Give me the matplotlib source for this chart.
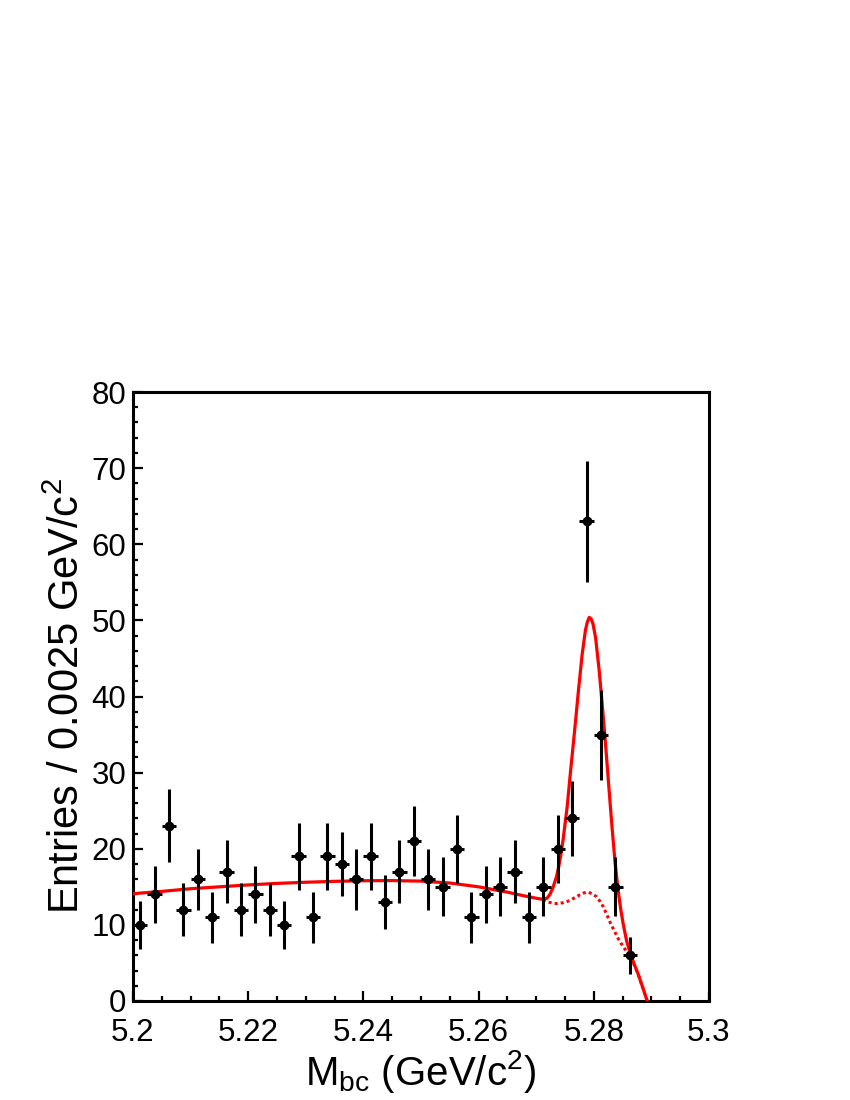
import numpy as np
import matplotlib
matplotlib.use("Agg")
import matplotlib.pyplot as plt
from matplotlib.ticker import MultipleLocator

plt.rcParams['font.family'] = ['Liberation Sans', 'DejaVu Sans']
plt.rcParams['mathtext.fontset'] = 'custom'
plt.rcParams['mathtext.rm'] = 'Liberation Sans'

# Data: bin centres (GeV/c^2) and entries per 0.0025 GeV/c^2
bin_centers = [5.20125, 5.20375, 5.20625, 5.20875, 5.21125, 5.21375, 5.21625,
               5.21875, 5.22125, 5.22375, 5.22625, 5.22875, 5.23125, 5.23375,
               5.23625, 5.23875, 5.24125, 5.24375, 5.24625, 5.24875, 5.25125,
               5.25375, 5.25625, 5.25875, 5.26125, 5.26375, 5.26625, 5.26875,
               5.27125, 5.27375, 5.27625, 5.27875, 5.28125, 5.28375, 5.28625]
entries = [10, 14, 23, 12, 16, 11, 17, 12, 14, 12, 10, 19, 11, 19, 18, 16, 19,
           13, 17, 21, 16, 15, 20, 11, 14, 15, 17, 11, 15, 20, 24, 63, 35, 15, 6]
bin_half_width = 0.00125

# Total fit curve
fit_x = [5.2000, 5.2050, 5.2100, 5.2150, 5.2200, 5.2250, 5.2300, 5.2350,
         5.2400, 5.2450, 5.2500, 5.2550, 5.2600, 5.2650, 5.2680, 5.2700,
         5.27123, 5.27188, 5.27240, 5.27292, 5.27356, 5.27396, 5.27431,
         5.27470, 5.27540, 5.27599, 5.27651, 5.27686, 5.27731, 5.27800,
         5.27856, 5.27889, 5.27922, 5.27955, 5.27986, 5.28033, 5.28095,
         5.28148, 5.28194, 5.28224, 5.28269, 5.28316, 5.28368, 5.28425,
         5.28470, 5.28512, 5.28571, 5.28628, 5.28700, 5.28773, 5.28850,
         5.28929]
fit_y = [14.1, 14.4, 14.75, 15.0, 15.25, 15.45, 15.6, 15.72,
         15.8, 15.82, 15.75, 15.5, 15.0, 14.3, 13.8, 13.5,
         13.35, 13.5, 14.0, 14.9, 16.4, 17.8, 19.3,
         21.3, 25.6, 30.3, 34.2, 36.9, 40.5, 45.6,
         48.7, 49.8, 50.4, 50.2, 49.6, 47.7, 43.4,
         38.9, 34.8, 31.9, 27.5, 23.0, 18.4, 14.5,
         12.0, 10.1, 7.9, 6.4, 4.9, 3.5, 1.8,
         0.0]

# Background (dotted) curve beyond the point where it leaves the total
bkg_x = [5.27123, 5.27205, 5.27290, 5.27356, 5.27465, 5.27587, 5.27674,
         5.27760, 5.27830, 5.27905, 5.27969, 5.28050, 5.28108, 5.28165,
         5.28224, 5.28281, 5.28351, 5.28425, 5.28498, 5.28571, 5.28628,
         5.28700, 5.28773, 5.28850, 5.28929]
bkg_y = [13.35, 13.0, 12.85, 12.8, 12.9, 13.2, 13.6,
         13.95, 14.2, 14.3, 14.1, 13.7, 13.1, 12.4,
         11.4, 10.4, 9.3, 8.2, 7.3, 6.5, 6.1,
         4.8, 3.5, 1.8, 0.0]

errors = np.sqrt(np.array(entries, dtype=float))

fig = plt.figure(figsize=(8.5, 11), dpi=100)
ax = fig.add_axes([0.1565, 0.09, 0.6775, 0.5536])

ax.plot(bkg_x, bkg_y, color='#ff0000', lw=2.2, linestyle=(0, (1.0, 1.0)),
        zorder=2)
ax.plot(fit_x, fit_y, color='#ff0000', lw=2.3, zorder=3,
        solid_joinstyle='round')
ax.errorbar(bin_centers, entries, yerr=errors, xerr=bin_half_width,
            fmt='o', color='black', ms=6, elinewidth=2.2, capsize=0,
            zorder=4)

ax.set_xlim(5.2, 5.3)
ax.set_ylim(0, 80)

xticks = [5.2, 5.22, 5.24, 5.26, 5.28, 5.3]
xticklabels = ['5.2', '5.22', '5.24', '5.26', '5.28', '5.3']
yticks = [0, 10, 20, 30, 40, 50, 60, 70, 80]
ax.set_xticks(xticks)
ax.set_xticklabels(xticklabels)
ax.set_yticks(yticks)
ax.xaxis.set_minor_locator(MultipleLocator(0.005))
ax.yaxis.set_minor_locator(MultipleLocator(2))

ax.tick_params(which='both', direction='in', top=False, right=False,
               width=1.6, labelsize=22.5)
ax.tick_params(which='major', length=7.5)
ax.tick_params(which='minor', length=3.8)
ax.tick_params(axis='x', pad=12)
ax.tick_params(axis='y', pad=5)

for s in ax.spines.values():
    s.set_linewidth(2.2)

ax.set_xlabel(r'M$_{\mathregular{bc}}$ (GeV/c$^{\mathregular{2}}$)',
              fontsize=29, labelpad=0)
ax.set_ylabel(r'Entries / 0.0025 GeV/c$^{\mathregular{2}}$', fontsize=30,
              labelpad=2)

fig.savefig('out.png', dpi=100)
